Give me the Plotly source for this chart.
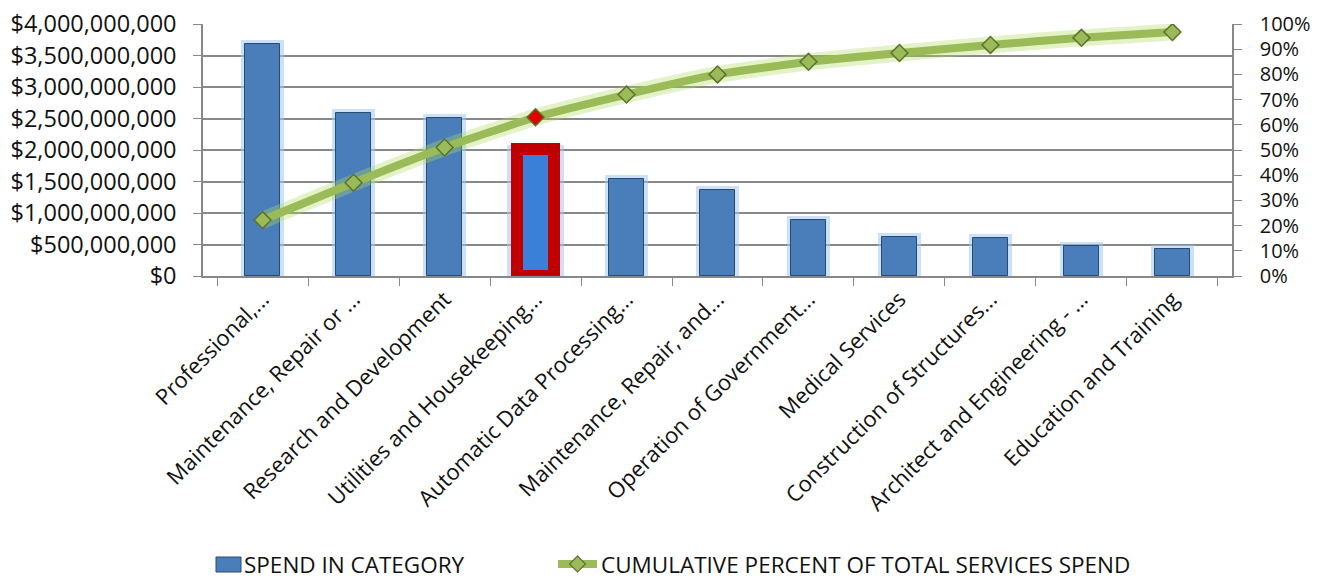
import plotly.graph_objects as go

# Services spend by category, largest first
categories = [
    "Professional,...",
    "Maintenance, Repair or ...",
    "Research and Development",
    "Utilities and Housekeeping...",
    "Automatic Data Processing...",
    "Maintenance, Repair, and...",
    "Operation of Government...",
    "Medical Services",
    "Construction of Structures...",
    "Architect and Engineering - ...",
    "Education and Training",
]
spend = [3.68e9, 2.59e9, 2.51e9, 2.02e9, 1.54e9, 1.37e9, 0.89e9, 0.62e9, 0.60e9, 0.48e9, 0.43e9]
cumulative_pct = [0.222, 0.37, 0.51, 0.63, 0.72, 0.80, 0.85, 0.885, 0.917, 0.945, 0.968]
highlight_index = 3
series_names = ["SPEND IN CATEGORY", "CUMULATIVE PERCENT OF TOTAL SERVICES SPEND"]

spend_ticks = [i * 5e8 for i in range(9)]
pct_ticks = [i / 10 for i in range(11)]

BLUE = "#4A7EBB"
BLUE_EDGE = "#2A4A72"
GLOW = "rgba(160,200,245,0.55)"
GREEN = "#9BBB59"
GREEN_GLOW = "rgba(175,220,95,0.35)"
RED = "#C00000"
GRID = "#888888"
FONT = "Open Sans, Noto Sans, sans-serif"

W, H = 1335, 581
M_L, M_R, M_T, M_B = 203, 103, 24, 305
PLOT_W = W - M_L - M_R
PLOT_H = H - M_T - M_B


def px_x(px):
    """Horizontal pixel position -> paper fraction."""
    return (px - M_L) / PLOT_W


def px_y(py):
    """Vertical pixel position (from top) -> paper fraction."""
    return (H - M_B - py) / PLOT_H


n = len(categories)
bar_w = [0.39] * n
bar_w[highlight_index] = 0.41
fill = [BLUE] * n
fill[highlight_index] = "#3A80D8"
edge = [BLUE_EDGE] * n
edge[highlight_index] = RED
edge_w = [1] * n
edge_w[highlight_index] = 12
glow_w = [0.39] * n
glow_w[highlight_index] = 0.53
marker_fill = [GREEN] * n
marker_fill[highlight_index] = "#E00000"

fig = go.Figure()

# soft halo behind each bar
fig.add_trace(go.Bar(
    x=categories, y=spend, width=glow_w,
    marker=dict(color=GLOW, line=dict(color=GLOW, width=8)),
    showlegend=False, hoverinfo="skip",
))
fig.add_trace(go.Bar(
    x=categories, y=spend, width=bar_w, name=series_names[0],
    marker=dict(color=fill, line=dict(color=edge, width=edge_w)),
    showlegend=False,
))

# halo under the cumulative line
fig.add_trace(go.Scatter(
    x=categories, y=cumulative_pct, yaxis="y2", mode="lines",
    line=dict(color=GREEN_GLOW, width=17, shape="spline", smoothing=0.4),
    showlegend=False, hoverinfo="skip",
))
fig.add_trace(go.Scatter(
    x=categories, y=cumulative_pct, yaxis="y2", mode="lines+markers",
    name=series_names[1],
    line=dict(color=GREEN, width=8, shape="spline", smoothing=0.4),
    marker=dict(symbol="diamond", size=13, color=marker_fill,
                line=dict(color="#5C7030", width=1.5)),
    showlegend=False,
))

# legend row under the chart
leg_y = 564
shapes = [
    dict(type="rect", xref="paper", yref="paper",
         x0=px_x(216), x1=px_x(241), y0=px_y(leg_y + 8), y1=px_y(leg_y - 7),
         fillcolor=BLUE, line=dict(color=BLUE_EDGE, width=1)),
    dict(type="line", xref="paper", yref="paper",
         x0=px_x(558), x1=px_x(597), y0=px_y(leg_y), y1=px_y(leg_y),
         line=dict(color=GREEN, width=8)),
    dict(type="path", xref="paper", yref="paper",
         path=(f"M {px_x(577.5)},{px_y(leg_y - 8)} L {px_x(585.5)},{px_y(leg_y)} "
               f"L {px_x(577.5)},{px_y(leg_y + 8)} L {px_x(569.5)},{px_y(leg_y)} Z"),
         fillcolor=GREEN, line=dict(color="#5C7030", width=1.2)),
]
annotations = [
    dict(text=series_names[0], xref="paper", yref="paper",
         x=px_x(242), y=px_y(leg_y), xanchor="left", yanchor="middle",
         showarrow=False, font=dict(family=FONT, size=22.5, color="#111111")),
    dict(text=series_names[1], xref="paper", yref="paper",
         x=px_x(599), y=px_y(leg_y), xanchor="left", yanchor="middle",
         showarrow=False, font=dict(family=FONT, size=22.5, color="#111111")),
]

fig.update_layout(
    width=W, height=H,
    margin=dict(l=M_L, r=M_R, t=M_T, b=M_B, autoexpand=False),
    paper_bgcolor="white", plot_bgcolor="white",
    barmode="overlay", bargap=0,
    font=dict(family=FONT, size=20, color="#111111"),
    showlegend=False,
    shapes=shapes, annotations=annotations,
    xaxis=dict(
        tickangle=-45, ticks="outside", tickson="boundaries", ticklen=8,
        tickcolor=GRID, showline=True, linecolor=GRID, linewidth=1.5,
        showgrid=False, tickfont=dict(size=22), automargin=False,
    ),
    yaxis=dict(
        range=[0, 4e9], tickvals=spend_ticks, tickformat="$,.0f",
        showgrid=True, gridcolor=GRID, gridwidth=1.5,
        showline=True, linecolor=GRID, linewidth=1.5,
        ticks="outside", ticklen=8, tickcolor=GRID, zeroline=False,
        tickfont=dict(size=23.5), automargin=False, ticklabelstandoff=12,
    ),
    yaxis2=dict(
        range=[0, 1], tickvals=pct_ticks, tickformat=".0%",
        overlaying="y", side="right", showgrid=False,
        showline=True, linecolor=GRID, linewidth=1.5,
        ticks="outside", ticklen=8, tickcolor=GRID, zeroline=False,
        tickfont=dict(size=20), automargin=False, ticklabelstandoff=14,
    ),
)

fig.write_html("out.html")
